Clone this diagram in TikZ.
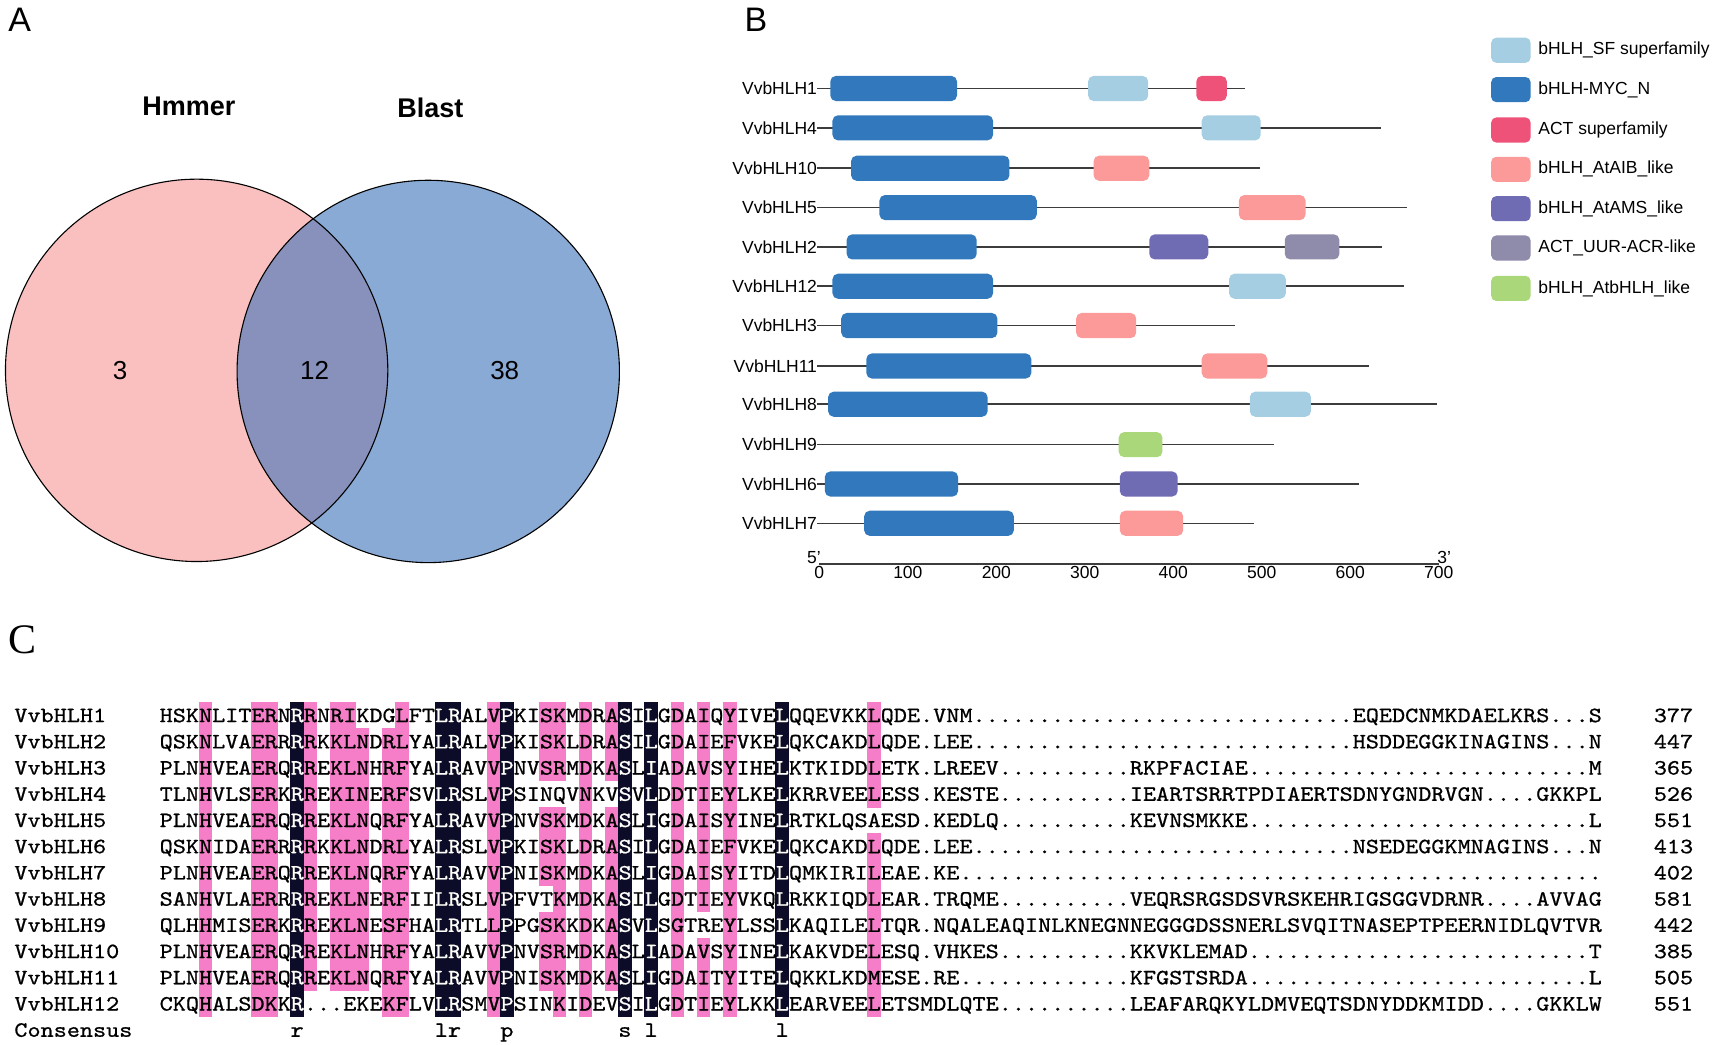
\documentclass[tikz,border=0pt]{standalone}
\usepackage{fontspec}
\setmainfont{Liberation Sans}
\newfontfamily\seqfont{lmmono10-regular.otf}[FakeStretch=1.1429,FakeBold=0.8]
\newfontfamily\serfont{Liberation Serif}
\ExplSyntaxOn
\cs_new:Npn \seqdots #1 { \prg_replicate:nn {#1} {.} }
\ExplSyntaxOff
\definecolor{vpink}{RGB}{250,192,192}
\definecolor{vblue}{RGB}{137,170,213}
\definecolor{vover}{RGB}{136,145,188}
\definecolor{cSF}{RGB}{166,206,227}
\definecolor{cMYC}{RGB}{49,121,188}
\definecolor{cACT}{RGB}{239,82,120}
\definecolor{cAIB}{RGB}{251,154,153}
\definecolor{cAMS}{RGB}{112,108,180}
\definecolor{cUUR}{RGB}{143,139,170}
\definecolor{cAtb}{RGB}{170,215,122}
\definecolor{hpink}{RGB}{246,125,200}
\definecolor{hblack}{RGB}{12,12,40}
\definecolor{plinec}{RGB}{60,60,60}
\tikzset{
  seq/.style={font=\seqfont\fontsize{21.85}{24}\selectfont, inner sep=0pt, anchor=base west},
  blab/.style={font=\fontsize{17.5}{20}\selectfont, inner sep=0pt},
  panel/.style={font=\fontsize{34}{40}\selectfont, inner sep=0pt},
  vnum/.style={font=\fontsize{26}{30}\selectfont, inner sep=0pt},
  vtitle/.style={font=\bfseries\fontsize{27}{30}\selectfont, inner sep=0pt},
  protline/.style={draw=plinec, line width=1.6pt},
}
\newcommand\domn[4]{\fill[#1, rounded corners=5.5pt] (#2,{#4-11.5}) rectangle (#3,{#4+11.5});}
\newcommand\pk[4]{\fill[hpink] ({146+12*#1-0.2},{643+24*(#3-1)-0.2}) rectangle ({146+12*(#2+1)+0.2},{643+24*#4+0.2});}
\def\alnrows{1/VvbHLH1/{HSKNLITERNRRNRIKDGLFTLRALVPKISKMDRASILGDAIQYIVELQQEVKKLQDE.VNM\seqdots{29}EQEDCNMKDAELKRS\seqdots{3}S}/377,
2/VvbHLH2/{QSKNLVAERRRRKKLNDRLYALRALVPKISKLDRASILGDAIEFVKELQKCAKDLQDE.LEE\seqdots{29}HSDDEGGKINAGINS\seqdots{3}N}/447,
3/VvbHLH3/{PLNHVEAERQRREKLNHRFYALRAVVPNVSRMDKASLIADAVSYIHELKTKIDDLETK.LREEV\seqdots{10}RKPFACIAE\seqdots{26}M}/365,
4/VvbHLH4/{TLNHVLSERKRREKINERFSVLRSLVPSINQVNKVSVLDDTIEYLKELKRRVEELESS.KESTE\seqdots{10}IEARTSRRTPDIAERTSDNYGNDRVGN\seqdots{4}GKKPL}/526,
5/VvbHLH5/{PLNHVEAERQRREKLNQRFYALRAVVPNVSKMDKASLIGDAISYINELRTKLQSAESD.KEDLQ\seqdots{10}KEVNSMKKE\seqdots{26}L}/551,
6/VvbHLH6/{QSKNIDAERRRRKKLNDRLYALRSLVPKISKLDRASILGDAIEFVKELQKCAKDLQDE.LEE\seqdots{29}NSEDEGGKMNAGINS\seqdots{3}N}/413,
7/VvbHLH7/{PLNHVEAERQRREKLNQRFYALRAVVPNISKMDKASLIGDAISYITDLQMKIRILEAE.KE\seqdots{49}}/402,
8/VvbHLH8/{SANHVLAERRRREKLNERFIILRSLVPFVTKMDKASILGDTIEYVKQLRKKIQDLEAR.TRQME\seqdots{10}VEQRSRGSDSVRSKEHRIGSGGVDRNR\seqdots{4}AVVAG}/581,
9/VvbHLH9/{QLHHMISERKRREKLNESFHALRTLLPPGSKKDKASVLSGTREYLSSLKAQILELTQR.NQALEAQINLKNEGNNEGGGDSSNERLSVQITNASEPTPEERNIDLQVTVR}/442,
10/VvbHLH10/{PLNHVEAERQRREKLNHRFYALRAVVPNVSRMDKASLIADAVSYINELKAKVDELESQ.VHKES\seqdots{10}KKVKLEMAD\seqdots{26}T}/385,
11/VvbHLH11/{PLNHVEAERQRREKLNQRFYALRAVVPNISKMDKASLIGDAITYITELQKKLKDMESE.RE\seqdots{13}KFGSTSRDA\seqdots{26}L}/505,
12/VvbHLH12/{CKQHALSDKKR\seqdots{3}EKEKFLVLRSMVPSINKIDEVSILGDTIEYLKKLEARVEELETSMDLQTE\seqdots{10}LEAFARQKYLDMVEQTSDNYDDKMIDD\seqdots{4}GKKLW}/551}
\begin{document}
\begin{tikzpicture}[x=1.0925pt,y=-1.0925pt]
\useasboundingbox (0,0) rectangle (1568,956.5);
% ---------- Panel A ----------
\node[panel] (pA) at (18,18) {A};
\fill[vpink] (180,339) circle (175);
\fill[vblue] (392,340) circle (175);
\begin{scope}
  \clip (180,339) circle (175);
  \fill[vover] (392,340) circle (175);
\end{scope}
\draw[line width=1.1pt] (180,339) circle (175);
\draw[line width=1.1pt] (392,340) circle (175);
\node[vtitle] (hm) at (173,97) {Hmmer};
\node[vtitle] (bl) at (394,99) {Blast};
\node[vnum] (n3) at (110,339) {3};
\node[vnum] (n12) at (288,339) {12};
\node[vnum] (n38) at (462,339) {38};
% ---------- Panel B ----------
\node[panel] (pB) at (692,18) {B};
\foreach \nm/\yy/\xe in {VvbHLH1/81/1140,VvbHLH4/117/1264,VvbHLH10/154/1153,VvbHLH5/190/1288,VvbHLH2/226/1265,VvbHLH12/262/1285,VvbHLH3/298/1130,VvbHLH11/335/1253,VvbHLH8/370/1315,VvbHLH9/407/1166,VvbHLH6/443/1244,VvbHLH7/479/1148}{
  \node[blab, anchor=east] (lab-\nm) at (748,\yy) {\nm};
  \coordinate (end-\nm) at (\xe,\yy);
  \draw[protline] (lab-\nm.east) -- (end-\nm);
}
\domn{cMYC}{760}{876}{81}\domn{cSF}{996}{1051}{81}\domn{cACT}{1095}{1123}{81}
\domn{cMYC}{762}{909}{117}\domn{cSF}{1100}{1154}{117}
\domn{cMYC}{779}{924}{154}\domn{cAIB}{1001}{1052}{154}
\domn{cMYC}{805}{949}{190}\domn{cAIB}{1134}{1195}{190}
\domn{cMYC}{775}{894}{226}\domn{cAMS}{1052}{1106}{226}\domn{cUUR}{1176}{1226}{226}
\domn{cMYC}{762}{909}{262}\domn{cSF}{1125}{1177}{262}
\domn{cMYC}{770}{913}{298}\domn{cAIB}{985}{1040}{298}
\domn{cMYC}{793}{944}{335}\domn{cAIB}{1100}{1160}{335}
\domn{cMYC}{758}{904}{370}\domn{cSF}{1144}{1200}{370}
\domn{cAtb}{1024}{1064}{407}
\domn{cMYC}{755}{877}{443}\domn{cAMS}{1025}{1078}{443}
\domn{cMYC}{791}{928}{479}\domn{cAIB}{1025}{1083}{479}
\coordinate (ax0) at (750,516);
\coordinate (ax1) at (1317,516);
\draw[draw=plinec, line width=1.8pt] (ax0) -- (ax1);
\foreach \k/\t in {0/0,1/100,2/200,3/300,4/400,5/500,6/600,7/700}{
  \node[blab, anchor=north] (tk\k) at ({750+81*\k},518) {\t};
}
\node[blab, anchor=south] (p5) at (745,516) {5'};
\node[blab, anchor=south] (p3) at (1322,516) {3'};
% legend
\foreach \c/\yy/\t in {cSF/46/bHLH\_SF superfamily,cMYC/82/bHLH-MYC\_N,cACT/119/ACT superfamily,cAIB/155/bHLH\_AtAIB\_like,cAMS/191/bHLH\_AtAMS\_like,cUUR/227/ACT\_UUR-ACR-like,cAtb/264/bHLH\_AtbHLH\_like}{
  \fill[\c, rounded corners=5pt] (1365,{\yy-11.5}) rectangle (1401,{\yy+11.5});
  \node[blab, anchor=west] (lg-\c) at (1408,\yy) {\t};
}
% ---------- Panel C ----------
\node[inner sep=0pt, font=\serfont\fontsize{42}{46}\selectfont] (pC) at (21,586) {C};
\pk{3}{3}{1}{12}
\pk{7}{8}{1}{12}
\pk{11}{11}{1}{11}
\pk{13}{14}{1}{1}\pk{13}{15}{2}{11}
\pk{18}{18}{1}{1}\pk{17}{18}{2}{12}
\pk{25}{25}{1}{12}
\pk{29}{30}{1}{3}\pk{29}{30}{5}{7}\pk{30}{30}{8}{8}\pk{29}{30}{9}{11}\pk{30}{30}{12}{12}
\pk{32}{32}{1}{12}
\pk{34}{34}{1}{3}\pk{34}{34}{5}{11}
\pk{39}{39}{1}{12}
\pk{41}{41}{1}{8}\pk{41}{41}{10}{12}
\pk{43}{43}{1}{12}
\pk{54}{54}{1}{4}\pk{54}{54}{6}{12}
\foreach \c in {10,21,22,26,35,37,47}{
  \fill[hblack] ({146+12*\c-0.2},643) rectangle ({158+12*\c+0.2},931);
}
\foreach \r/\nm/\sq/\num in \alnrows {
  \node[seq] (nm\r) at (13,{655+24*(\r-1)+6}) {\nm};
  \node[seq] (sq\r) at (146,{655+24*(\r-1)+6}) {\sq};
  \node[seq, anchor=base east] (num\r) at (1550,{655+24*(\r-1)+6}) {\num};
}
\begin{scope}
  \clip \foreach \c in {10,21,22,26,35,37,47}{ ({146+12*\c},643) rectangle ({158+12*\c},931) };
  \foreach \r/\nm/\sq/\num in \alnrows {
    \node[seq, text=white] (wsq\r) at (146,{655+24*(\r-1)+6}) {\sq};
  }
\end{scope}
\node[seq] (cons) at (13,949) {Consensus};
\foreach \c/\t in {10/r,21/l,22/r,26/p,35/s,37/l,47/l}{
  \node[seq, anchor=base] (cs\c) at ({152+12*\c},949) {\t};
}
\end{tikzpicture}
\end{document}
